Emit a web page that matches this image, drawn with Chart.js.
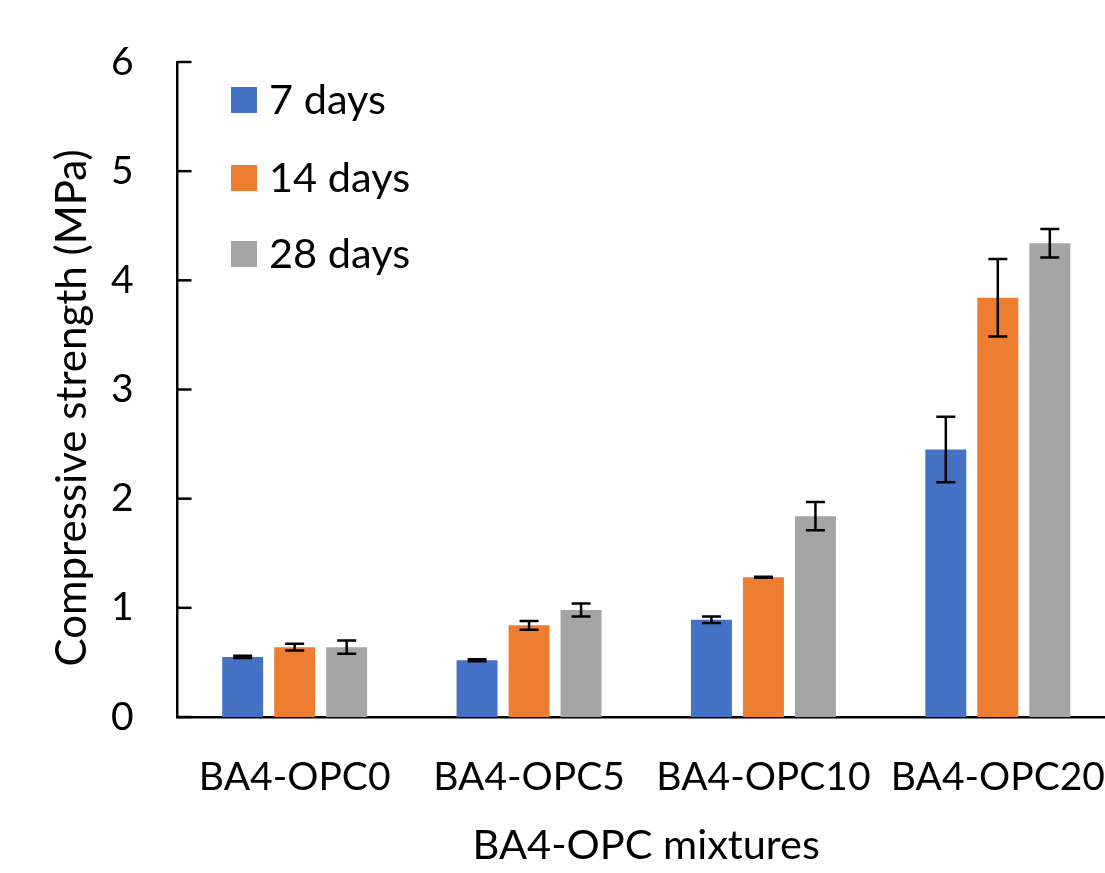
<!DOCTYPE html>
<html>
<head>
<meta charset="utf-8">
<script src="https://cdn.jsdelivr.net/npm/chart.js@4"></script>
<style>
  html, body { margin: 0; padding: 0; background: #fff; overflow: hidden; }
  canvas { display: block; }
</style>
</head>
<body>
<canvas id="chart" width="1116" height="873"></canvas>
<script>
// datos
const mixtures = ['BA4-OPC0', 'BA4-OPC5', 'BA4-OPC10', 'BA4-OPC20'];
const days7 = [0.55, 0.52, 0.89, 2.45];
const days14 = [0.64, 0.84, 1.28, 3.84];
const days28 = [0.64, 0.98, 1.84, 4.34];
// desviacion (barras de error)
const err7 = [0.01, 0.01, 0.03, 0.30];
const err14 = [0.03, 0.04, 0.005, 0.355];
const err28 = [0.06, 0.06, 0.13, 0.13];
const yTicks = [0, 1, 2, 3, 4, 5, 6];

const FONT = 'Lato';

// barras de error
const errorBars = {
  id: 'errorBars',
  afterDatasetsDraw(chart) {
    const ctx = chart.ctx;
    const y = chart.scales.y;
    const errs = [err7, err14, err28];
    ctx.save();
    ctx.strokeStyle = '#000';
    ctx.lineWidth = 2.5;
    chart.data.datasets.forEach((ds, i) => {
      chart.getDatasetMeta(i).data.forEach((bar, j) => {
        const top = y.getPixelForValue(ds.data[j] + errs[i][j]);
        const bot = y.getPixelForValue(ds.data[j] - errs[i][j]);
        ctx.beginPath();
        ctx.moveTo(bar.x, top); ctx.lineTo(bar.x, bot);
        ctx.moveTo(bar.x - 9.5, top); ctx.lineTo(bar.x + 9.5, top);
        ctx.moveTo(bar.x - 9.5, bot); ctx.lineTo(bar.x + 9.5, bot);
        ctx.stroke();
      });
    });
    ctx.restore();
  }
};

// marcas del eje y hacia dentro
const innerTicks = {
  id: 'innerTicks',
  afterDraw(chart) {
    const ctx = chart.ctx;
    const y = chart.scales.y;
    const x0 = chart.chartArea.left;
    ctx.save();
    ctx.strokeStyle = '#000';
    ctx.lineWidth = 2.5;
    y.ticks.forEach(t => {
      const py = y.getPixelForValue(t.value);
      ctx.beginPath();
      ctx.moveTo(x0, py); ctx.lineTo(x0 + 14, py);
      ctx.stroke();
    });
    ctx.restore();
  }
};

// leyenda vertical dentro del area
const sideLegend = {
  id: 'sideLegend',
  afterDraw(chart) {
    const ctx = chart.ctx;
    const rows = [100, 178, 254];
    ctx.save();
    ctx.font = '41.5px ' + FONT;
    ctx.textBaseline = 'middle';
    chart.data.datasets.forEach((ds, i) => {
      ctx.fillStyle = ds.backgroundColor;
      ctx.fillRect(231, rows[i] - 13, 26, 26);
      ctx.fillStyle = '#000';
      ctx.fillText(ds.label, 269, rows[i] + 1);
    });
    ctx.restore();
  }
};

new Chart(document.getElementById('chart'), {
  type: 'bar',
  data: {
    labels: mixtures,
    datasets: [
      { label: '7 days', data: days7, backgroundColor: '#4472C4' },
      { label: '14 days', data: days14, backgroundColor: '#ED7D31' },
      { label: '28 days', data: days28, backgroundColor: '#A5A5A5' }
    ]
  },
  options: {
    responsive: false,
    animation: false,
    categoryPercentage: 0.6656,
    barPercentage: 0.788,
    layout: { padding: { top: 62, left: 0, right: 1, bottom: 0 } },
    plugins: {
      legend: { display: false },
      tooltip: { enabled: false }
    },
    scales: {
      x: {
        grid: { display: false, drawTicks: false },
        border: { display: true, color: '#000', width: 2.5 },
        ticks: {
          color: '#000', font: { family: FONT, size: 39 },
          padding: 37, maxRotation: 0, autoSkip: false
        },
        title: {
          display: true, text: 'BA4-OPC mixtures', color: '#000',
          font: { family: FONT, size: 41.5 }, padding: { top: 0, bottom: 2 }
        },
        afterFit(scale) {
          scale.height = 873 - 717;
          scale.paddingLeft = 0;
          scale.paddingRight = 0;
        }
      },
      y: {
        min: 0, max: 6,
        afterBuildTicks(scale) { scale.ticks = yTicks.map(v => ({ value: v })); },
        grid: { display: false, drawTicks: false },
        border: { display: true, color: '#000', width: 2.5 },
        ticks: { color: '#000', font: { family: FONT, size: 39 }, padding: 44 },
        title: {
          display: true, text: 'Compressive strength (MPa)\u2003\u2009', color: '#000',
          font: { family: FONT, size: 42 }, padding: { top: 47, bottom: 0 }
        },
        afterFit(scale) {
          scale.width = 177.5;
          scale.paddingTop = 0;
          scale.paddingBottom = 0;
        }
      }
    }
  },
  plugins: [errorBars, innerTicks, sideLegend]
});
</script>
</body>
</html>
